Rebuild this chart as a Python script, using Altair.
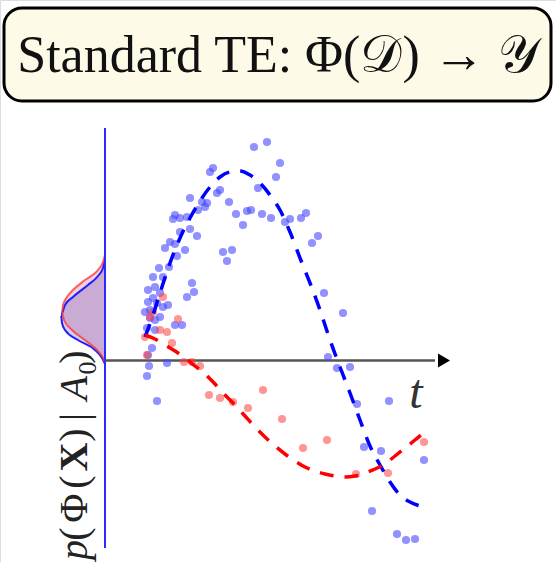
import altair as alt
import pandas as pd

# ---- data (t: time units, y: value units) ----
blue_t = [14.9, 16.2, 17.5, 17.1, 15.3, 10.5, 10.8, 11.5, 11.2, 12.4, 13.1, 14.2, 14.6, 15.7, 16.6,
          13.8, 18.0, 18.5, 19.6, 20.1, 20.7, 21.3, 11.8, 12.7, 12.2, 21.9, 23.8, 22.3, 23.2, 24.5,
          25.2, 28.4, 25.9, 27.6, 31.9, 26.7, 29.2, 30.1, 31.0, 8.5, 9.7, 10.2, 10.0, 9.3, 7.0,
          7.5, 6.8, 8.2, 8.5, 7.5, 9.2, 6.5, 7.0, 6.0, 8.0, 7.2, 5.4, 6.4, 4.8, 5.8,
          8.7, 8.9, 8.2, 4.3, 5.0, 5.5, 4.8, 4.3, 5.2, 5.8, 4.5, 4.0, 5.5, 5.0, 7.0,
          7.7, 4.2, 5.0, 6.3, 4.7, 4.3, 4.4, 6.2, 4.2, 5.2, 4.5]
blue_y = [21.1, 21.6, 19.5, 18.1, 17.0, 18.6, 19.0, 16.8, 16.5, 15.6, 14.4, 14.7, 14.8, 14.4, 14.0,
          13.3, 13.6, 13.9, 14.0, 14.5, 11.5, 12.2, 10.6, 10.8, 9.7, 6.5, 4.5, 0.1, -1.0, -0.9,
          -4.6, -4.3, -8.9, -9.3, -10.2, -15.3, -17.6, -18.2, -18.1, 16.0, 15.6, 15.5, 15.1, 14.8, 14.3,
          14.0, 13.9, 14.1, 12.9, 12.6, 12.2, 11.6, 11.4, 11.0, 10.8, 10.2, 9.0, 9.1, 8.1, 8.1,
          7.5, 6.6, 6.1, 6.8, 7.1, 6.5, 6.0, 5.6, 5.5, 5.1, 4.8, 4.6, 4.1, 3.8, 3.3,
          3.3, 3.0, 2.8, 5.3, 1.0, 0.3, -0.8, -0.5, -1.8, -4.3, 4.0]

red_t = [5.8, 4.8, 4.5, 7.3, 5.5, 6.2, 4.0, 6.7, 4.2, 7.9, 8.7, 9.5, 10.4, 11.5, 12.8,
         14.3, 15.8, 17.7, 19.8, 22.2, 25.1, 28.3, 31.9]
red_y = [6.1, 4.6, 4.1, 3.9, 2.8, 2.6, 2.1, 1.5, 0.3, -0.4, -0.4, -0.8, -3.7, -4.0, -4.4,
         -5.0, -3.2, -6.1, -9.0, -8.2, -11.6, -11.5, -8.4]

blue_fit_t = [4.0, 4.7, 5.5, 6.5, 7.5, 8.5, 9.5, 10.5, 11.5, 12.5, 13.5, 14.5, 15.5, 16.5, 17.5,
              18.5, 19.5, 20.5, 21.5, 22.5, 23.5, 24.5, 25.5, 26.5, 27.5, 28.5, 29.5, 30.5, 31.9]
blue_fit_y = [2.1, 4.0, 6.5, 9.5, 12.0, 14.0, 15.7, 17.1, 18.1, 18.6, 18.7, 18.3, 17.5, 16.3, 14.8,
              12.6, 10.0, 7.5, 4.8, 1.8, -0.9, -3.5, -6.2, -8.8, -10.7, -12.4, -13.7, -14.4, -14.9]

red_fit_t = [4.0, 5.0, 6.0, 7.0, 8.0, 9.0, 10.0, 11.0, 12.0, 13.0, 14.0, 15.0, 16.0, 17.0, 18.0,
             19.0, 20.0, 21.0, 22.0, 23.0, 24.0, 25.0, 26.0, 27.0, 28.0, 29.0, 30.0, 31.0, 31.7]
red_fit_y = [2.3, 1.9, 1.3, 0.7, 0.0, -0.8, -1.6, -2.6, -3.7, -4.7, -5.8, -6.9, -7.9, -8.8, -9.6,
             -10.3, -10.9, -11.3, -11.6, -11.8, -11.9, -11.8, -11.5, -11.1, -10.6, -9.8, -9.0, -8.2, -7.6]

# density of Phi(X) given A0 (drawn leftwards of the y axis)
red_dens_y = [10.3, 9.6, 8.8, 7.8, 6.8, 6.1, 5.3, 4.5, 3.8, 2.8, 1.8, 0.8, 0.0, -0.5]
red_dens = [0.0, 0.2, 0.7, 2.0, 3.2, 3.8, 4.2, 4.3, 4.1, 3.3, 2.0, 0.8, 0.2, 0.0]
blue_dens_y = [9.8, 9.0, 8.2, 7.3, 6.1, 5.3, 4.3, 3.5, 2.8, 1.8, 0.8, 0.0, -0.6]
blue_dens = [0.0, 0.2, 0.7, 1.7, 3.2, 4.0, 4.4, 4.3, 4.0, 2.7, 1.0, 0.3, 0.0]

title_text = "Standard TE: Φ(𝒟) → 𝒴"
t_label = "t"
# rotated label  p(Φ(X)|A0)  split by style, listed bottom to top
lab_normal = ["(", "Φ", "(", ")", "|", ")"]
lab_normal_pos = [-17.6, -15.0, -12.4, -7.7, -5.9, 0.1]
lab_italic = ["p", "A"]
lab_italic_pos = [-19.2, -3.0]
lab_bold = ["X"]
lab_bold_pos = [-9.9]
lab_sub = ["0"]
lab_sub_pos = [-1.0]

# ---- scales ----
W, H = 556, 562
xs = alt.Scale(domain=[-10.5, 45.1], nice=False, zero=False)
ys = alt.Scale(domain=[-20.4, 35.8], nice=False, zero=False)
X = lambda f: alt.X(f, scale=xs, axis=None)
Y = lambda f: alt.Y(f, scale=ys, axis=None)

blue_df = pd.DataFrame({"t": blue_t, "y": blue_y})
red_df = pd.DataFrame({"t": red_t, "y": red_y})
bfit = pd.DataFrame({"t": blue_fit_t, "y": blue_fit_y, "o": range(len(blue_fit_t))})
rfit = pd.DataFrame({"t": red_fit_t, "y": red_fit_y, "o": range(len(red_fit_t))})
rden = pd.DataFrame({"t": [-d for d in red_dens], "y": red_dens_y, "z": 0.0})
bden = pd.DataFrame({"t": [-d for d in blue_dens], "y": blue_dens_y, "z": 0.0})
one = pd.DataFrame({"a": [0]})

box = alt.Chart(one).mark_rect(cornerRadius=18, fill="#fdfbe8", stroke="black", strokeWidth=3).encode(
    x=alt.value(4), x2=alt.value(551), y=alt.value(8), y2=alt.value(101))
title = alt.Chart(one).mark_text(font="Liberation Serif", fontSize=52, color="#111",
                                 align="center", baseline="middle").encode(
    x=alt.value(278), y=alt.value(56), text=alt.value(title_text))

area_r = alt.Chart(rden).mark_area(orient="horizontal", color="#d04070", opacity=0.25,
                                   interpolate="monotone").encode(
    y=Y("y:Q"), x=X("t:Q"), x2="z:Q")
area_b = alt.Chart(bden).mark_area(orient="horizontal", color="#5040c0", opacity=0.25,
                                   interpolate="monotone").encode(
    y=Y("y:Q"), x=X("t:Q"), x2="z:Q")
line_r = alt.Chart(rden).mark_line(color="#ff3030", strokeWidth=2.0, opacity=0.75,
                                   interpolate="monotone").encode(
    y=Y("y:Q"), x=X("t:Q"), order="y:Q")
line_b = alt.Chart(bden).mark_line(color="#2020ff", strokeWidth=2.0,
                                   interpolate="monotone").encode(
    y=Y("y:Q"), x=X("t:Q"), order="y:Q")

vline = alt.Chart(pd.DataFrame({"t": [0.0], "y": [23.0], "y2": [-19.0]})).mark_rule(
    color="#2a2aff", strokeWidth=2).encode(x=X("t:Q"), y=Y("y:Q"), y2="y2:Q")
haxis = alt.Chart(pd.DataFrame({"t": [0.0], "t2": [33.0], "y": [-0.25]})).mark_rule(
    color="#555555", strokeWidth=2.5).encode(x=X("t:Q"), x2="t2:Q", y=Y("y:Q"))
arrow = alt.Chart(pd.DataFrame({"t": [33.9], "y": [-0.25]})).mark_point(
    shape="triangle-right", filled=True, color="black", size=190, opacity=1).encode(
    x=X("t:Q"), y=Y("y:Q"))

pts_b = alt.Chart(blue_df).mark_circle(color="#4848ff", size=66, opacity=0.6).encode(
    x=X("t:Q"), y=Y("y:Q"))
pts_r = alt.Chart(red_df).mark_circle(color="#ff4040", size=66, opacity=0.55).encode(
    x=X("t:Q"), y=Y("y:Q"))
fit_b = alt.Chart(bfit).mark_line(color="#0000ff", strokeWidth=3.5, strokeDash=[14, 11],
                                  interpolate="monotone").encode(
    x=X("t:Q"), y=Y("y:Q"), order="o:Q")
fit_r = alt.Chart(rfit).mark_line(color="#ff0000", strokeWidth=3.5, strokeDash=[14, 11],
                                  interpolate="monotone").encode(
    x=X("t:Q"), y=Y("y:Q"), order="o:Q")

tlab = alt.Chart(pd.DataFrame({"t": [31.1], "y": [-3.6]})).mark_text(
    font="Liberation Serif", fontStyle="italic", fontSize=48, color="#333",
    align="center", baseline="middle").encode(x=X("t:Q"), y=Y("y:Q"), text=alt.value(t_label))


def lab_layer(chars, pos, dx=-3.0, **kw):
    df = pd.DataFrame({"c": chars, "y": pos, "t": dx})
    return alt.Chart(df).mark_text(font="Liberation Serif", color="#222", angle=270,
                                   align="center", baseline="middle", **kw).encode(
        x=X("t:Q"), y=Y("y:Q"), text="c:N")


ylab_n = lab_layer(lab_normal, lab_normal_pos, fontSize=40)
ylab_i = lab_layer(lab_italic, lab_italic_pos, fontSize=40, fontStyle="italic")
ylab_b = lab_layer(lab_bold, lab_bold_pos, fontSize=40, fontWeight="bold")
ylab_s = lab_layer(lab_sub, lab_sub_pos, dx=-1.7, fontSize=26)

chart = alt.layer(box, title, area_r, area_b, line_b, line_r, vline, haxis, arrow,
                  pts_b, pts_r, fit_b, fit_r, tlab, ylab_n, ylab_i, ylab_b, ylab_s).properties(
    width=W, height=H, padding=0, autosize=alt.AutoSizeParams(type="none")
).configure_view(stroke=None).configure(background="white")

chart.save("out.html", embed_options={"renderer": "svg", "actions": False})
